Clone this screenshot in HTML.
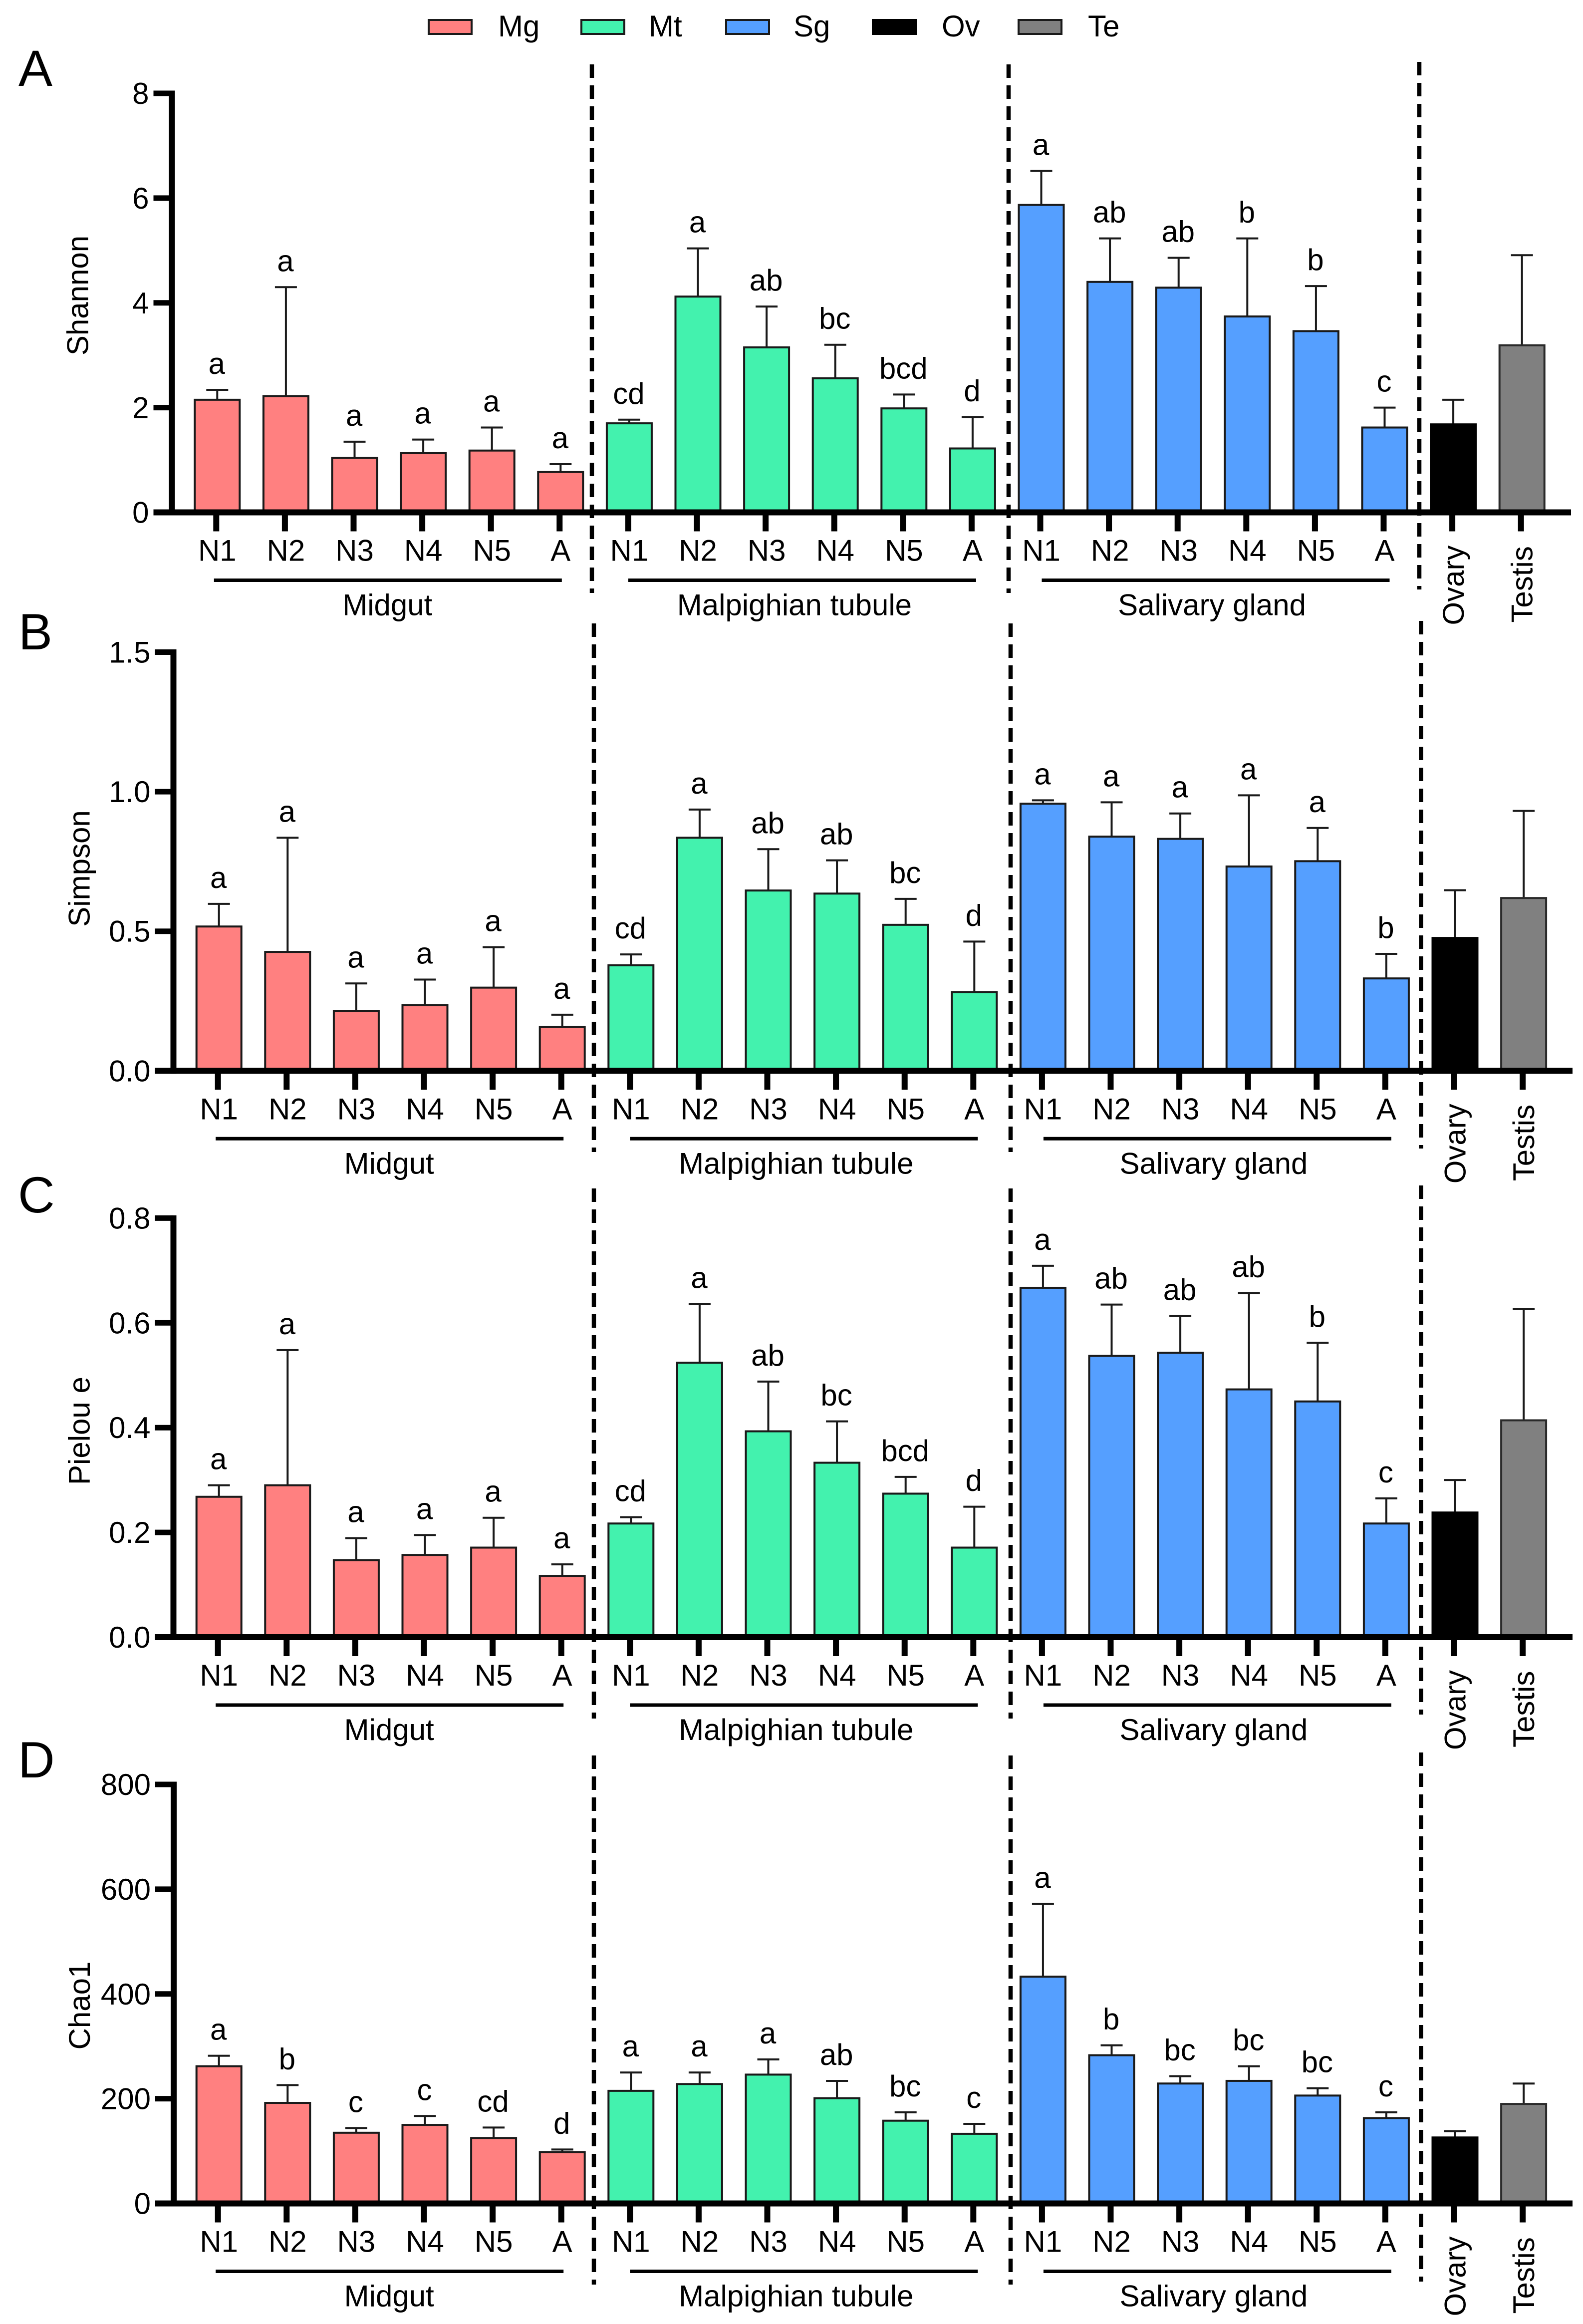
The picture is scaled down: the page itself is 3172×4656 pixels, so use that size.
<!DOCTYPE html>
<html lang="en">
<head>
<meta charset="utf-8">
<title>Alpha diversity by tissue and stage</title>
<style>
html,body{margin:0;padding:0;background:#fff;}
svg{display:block;}
text{font-family:"Liberation Sans",Arial,sans-serif;fill:#000;}
</style>
</head>
<body>
<svg id="chart" xmlns="http://www.w3.org/2000/svg" width="3172" height="4656" viewBox="0 0 3172 4656">
  <rect x="0" y="0" width="3172" height="4656" fill="#ffffff"/>
  <g>
    <rect x="859" y="40" width="86" height="28" fill="#FF8080" stroke="#1a1a1a" stroke-width="4"/>
    <text x="998" y="73" font-size="60">Mg</text>
    <rect x="1165" y="40" width="86" height="28" fill="#43F2AE" stroke="#1a1a1a" stroke-width="4"/>
    <text x="1300" y="73" font-size="60">Mt</text>
    <rect x="1455" y="40" width="86" height="28" fill="#559FFF" stroke="#1a1a1a" stroke-width="4"/>
    <text x="1590" y="73" font-size="60">Sg</text>
    <rect x="1749" y="40" width="86" height="28" fill="#000000" stroke="#000000" stroke-width="4"/>
    <text x="1887" y="73" font-size="60">Ov</text>
    <rect x="2041" y="40" width="86" height="28" fill="#808080" stroke="#1a1a1a" stroke-width="4"/>
    <text x="2180" y="73" font-size="60">Te</text>
  </g>
</svg>
<script>
// ---------- Categories ----------
var stageLabels = ['N1','N2','N3','N4','N5','A','N1','N2','N3','N4','N5','A','N1','N2','N3','N4','N5','A','Ovary','Testis'];
var tissueKeys = ['mg','mg','mg','mg','mg','mg','mt','mt','mt','mt','mt','mt','sg','sg','sg','sg','sg','sg','ov','te'];
var groupNames = ['Midgut','Malpighian tubule','Salivary gland'];

// ---------- Shannon ----------
var shannonMeans = [2.15,2.22,1.04,1.13,1.18,0.77, 1.70,4.12,3.15,2.56,1.985,1.22, 5.87,4.40,4.29,3.74,3.46,1.62, 1.68,3.19];
var shannonErrorTops = [2.34,4.30,1.35,1.39,1.62,0.92, 1.77,5.04,3.93,3.20,2.25,1.82, 6.52,5.23,4.86,5.23,4.32,2.00, 2.15,4.91];
var shannonLetters = ['a','a','a','a','a','a','cd','a','ab','bc','bcd','d','a','ab','ab','b','b','c','',''];
var shannonTicks = ['0','2','4','6','8'];

// ---------- Simpson ----------
var simpsonMeans = [0.517,0.426,0.215,0.235,0.298,0.157, 0.378,0.835,0.646,0.635,0.523,0.282, 0.957,0.839,0.831,0.732,0.751,0.331, 0.476,0.619];
var simpsonErrorTops = [0.598,0.835,0.313,0.327,0.443,0.201, 0.417,0.936,0.794,0.754,0.616,0.463, 0.969,0.962,0.922,0.987,0.870,0.419, 0.647,0.931];
var simpsonLetters = ['a','a','a','a','a','a','cd','a','ab','ab','bc','d','a','a','a','a','a','b','',''];
var simpsonTicks = ['0.0','0.5','1.0','1.5'];

// ---------- Pielou e ----------
var pielouMeans = [0.268,0.290,0.147,0.157,0.171,0.117, 0.217,0.524,0.393,0.333,0.274,0.171, 0.667,0.537,0.543,0.473,0.450,0.217, 0.238,0.414];
var pielouErrorTops = [0.290,0.548,0.189,0.195,0.228,0.139, 0.229,0.636,0.488,0.412,0.306,0.249, 0.709,0.635,0.613,0.657,0.562,0.265, 0.300,0.627];
var pielouLetters = ['a','a','a','a','a','a','cd','a','ab','bc','bcd','d','a','ab','ab','ab','b','c','',''];
var pielouTicks = ['0.0','0.2','0.4','0.6','0.8'];

// ---------- Chao1 ----------
var chaoMeans = [262,192,135,150,125,98, 215,228,246,201,158,133, 433,283,229,234,206,163, 126,190];
var chaoErrorTops = [282,226,144,167,145,103, 250,250,275,234,174,152, 572,302,243,262,220,174, 138,229];
var chaoLetters = ['a','b','c','c','cd','d','a','a','a','ab','bc','c','a','b','bc','bc','bc','c','',''];
var chaoTicks = ['0','200','400','600','800'];

// ---------- Layout (not data) ----------
var SVGNS = 'http://www.w3.org/2000/svg';
var root = document.getElementById('chart');
var STEP = 137.6, BAR_W = 90, FONT = 60;
var fills = {mg:'#FF8080', mt:'#43F2AE', sg:'#559FFF', ov:'#000000', te:'#808080'};
var strokes = {mg:'#1a1a1a', mt:'#1a1a1a', sg:'#1a1a1a', ov:'#000000', te:'#2a2a2a'};

function make(parent, tag, attrs, text) {
  var el = document.createElementNS(SVGNS, tag);
  for (var k in attrs) { el.setAttribute(k, attrs[k]); }
  if (text !== undefined) { el.textContent = text; }
  parent.appendChild(el);
  return el;
}

function xScale(p, i) { return p.x0 + STEP * i; }
function yScale(p, v) { return p.y0 - (v / p.max) * (p.y0 - p.yTop); }

function drawPanel(p) {
  var g = make(root, 'g', {});
  
  

  var letter = make(g, 'text', {x: p.letterX, y: p.letterY, 'font-size': 102}, p.letter);
  
  

  var title = make(g, 'text', {x: 0, y: 0, 'font-size': FONT, 'text-anchor': 'middle',
    transform: 'translate(' + (p.axisX - 168) + ' ' + p.titleY + ') rotate(-90)'}, p.title);
  
  

  // bars, error bars, significance letters
  for (var i = 0; i < p.means.length; i++) {
    var cx = xScale(p, i);
    var top = yScale(p, p.means[i]);
    var errTop = yScale(p, p.errs[i]);
    var tissue = tissueKeys[i];

    var stem = make(g, 'line', {x1: cx, x2: cx, y1: top, y2: errTop, stroke: '#1a1a1a', 'stroke-width': 4});
    
    

    var cap = make(g, 'line', {x1: cx - 22, x2: cx + 22, y1: errTop, y2: errTop, stroke: '#1a1a1a', 'stroke-width': 4});
    
    

    var bar = make(g, 'rect', {x: cx - BAR_W / 2, y: top, width: BAR_W, height: p.y0 - top,
      fill: fills[tissue], stroke: strokes[tissue], 'stroke-width': 4});
    
    

    if (p.letters[i]) {
      var sig = make(g, 'text', {x: cx - 1, y: errTop - 32, 'font-size': FONT, 'text-anchor': 'middle'}, p.letters[i]);
      
      
    }

    // x tick and label
    var tick = make(g, 'line', {x1: cx - 2, x2: cx - 2, y1: p.y0, y2: p.y0 + 38, stroke: '#000', 'stroke-width': 12});
    
    

    var lab;
    if (i < 18) {
      lab = make(g, 'text', {x: cx, y: p.y0 + 97, 'font-size': FONT, 'text-anchor': 'middle'}, stageLabels[i]);
    } else {
      var startY = p.y0 + (i === 18 ? 226 : 221);
      lab = make(g, 'text', {x: 0, y: 0, 'font-size': FONT,
        transform: 'translate(' + (cx + 21) + ' ' + startY + ') rotate(-90)'}, stageLabels[i]);
    }
    
    
  }

  // y axis + ticks
  var yAxis = make(g, 'line', {x1: p.axisX, x2: p.axisX, y1: p.yTop - 5.5, y2: p.y0 + 6, stroke: '#000', 'stroke-width': 12});
  
  

  var xAxis = make(g, 'line', {x1: p.axisX - 37, x2: p.axisEnd, y1: p.y0, y2: p.y0, stroke: '#000', 'stroke-width': 12});
  
  

  for (var t = 0; t < p.ticks.length; t++) {
    var ty = yScale(p, parseFloat(p.ticks[t]));
    var yt = make(g, 'line', {x1: p.axisX - 37, x2: p.axisX, y1: ty, y2: ty, stroke: '#000', 'stroke-width': 11});
    
    

    var yl = make(g, 'text', {x: p.axisX - 46, y: ty + 21, 'font-size': FONT, 'text-anchor': 'end'}, p.ticks[t]);
    
    
  }

  // tissue group rules and names
  for (var n = 0; n < 3; n++) {
    var first = xScale(p, n * 6);
    var x1 = first + [-6.5, -2, 1][n];
    var rule = make(g, 'line', {x1: x1, x2: x1 + 697, y1: p.y0 + 136, y2: p.y0 + 136, stroke: '#000', 'stroke-width': 7});
    
    

    var gl = make(g, 'text', {x: first + [341, 331, 342][n], y: p.y0 + 206, 'font-size': FONT, 'text-anchor': 'middle'}, groupNames[n]);
    
    
  }

  // dashed separators
  for (var d = 0; d < 3; d++) {
    var sep = make(g, 'line', {x1: p.sepX[d], x2: p.sepX[d], y1: p.sepTop[d], y2: p.sepBottom[d],
      stroke: '#000', 'stroke-width': 8.5, 'stroke-dasharray': '27 15'});
    
    
  }
}

var panels = [
  {key:'shannon', letter:'A', title:'Shannon', means:shannonMeans, errs:shannonErrorTops, letters:shannonLetters, ticks:shannonTicks,
   max:8, x0:435.3, axisX:344.5, axisEnd:3148, yTop:187, y0:1026.5, titleY:592, letterX:37, letterY:172,
   sepX:[1186,2021,2844], sepTop:[129,129,124], sepBottom:[1188,1188,1181]},
  {key:'simpson', letter:'B', title:'Simpson', means:simpsonMeans, errs:simpsonErrorTops, letters:simpsonLetters, ticks:simpsonTicks,
   max:1.5, x0:438.7, axisX:347.5, axisEnd:3151, yTop:1306.5, y0:2145.3, titleY:1740, letterX:37, letterY:1301,
   sepX:[1190,2025,2847.5], sepTop:[1249,1249,1244], sepBottom:[2308,2308,2301]},
  {key:'pielou', letter:'C', title:'Pielou e', means:pielouMeans, errs:pielouErrorTops, letters:pielouLetters, ticks:pielouTicks,
   max:0.8, x0:438.7, axisX:347.5, axisEnd:3151, yTop:2440.4, y0:3280, titleY:2866.6, letterX:36, letterY:2429,
   sepX:[1190,2025,2847.5], sepTop:[2381,2381,2375], sepBottom:[3443,3443,3435]},
  {key:'chao1', letter:'D', title:'Chao1', means:chaoMeans, errs:chaoErrorTops, letters:chaoLetters, ticks:chaoTicks,
   max:800, x0:438.7, axisX:348, axisEnd:3151, yTop:3575, y0:4414.5, titleY:4018, letterX:36, letterY:3561,
   sepX:[1190,2025,2847.5], sepTop:[3517,3517,3511], sepBottom:[4577,4577,4571]}
];

panels.forEach(drawPanel);
</script>
</body>
</html>
